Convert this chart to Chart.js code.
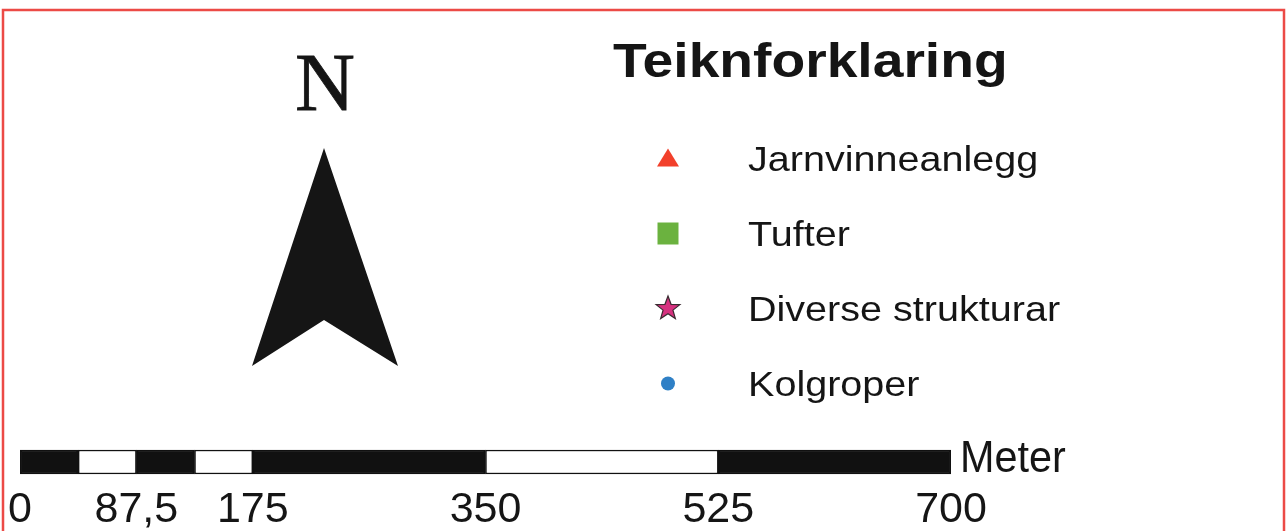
<!DOCTYPE html>
<html>
<head>
<meta charset="utf-8">
<title>Teiknforklaring</title>
<script src="https://cdn.jsdelivr.net/npm/chart.js@4.4.1/dist/chart.umd.min.js"></script>
<style>
    html, body { margin: 0; padding: 0; background: #ffffff; }
    #wrap { width: 1287px; height: 531px; }
</style>
</head>
<body>
<div id="wrap"><canvas id="legendChart" width="1287" height="531"></canvas></div>
<script>
// Scale bar (metres)
const scaleBreaks = [0, 43.75, 87.5, 131.25, 175, 350, 525, 700];
const scaleFills = ['#111111', '#ffffff', '#111111', '#ffffff', '#111111', '#ffffff', '#111111'];
const scaleTicks = [0, 87.5, 175, 350, 525, 700];
const scaleUnit = 'Meter';

// Legend entries
const legendTitle = 'Teiknforklaring';
const legendLabels = ['Jarnvinneanlegg', 'Tufter', 'Diverse strukturar', 'Kolgroper'];
const legendColors = ['#f2402b', '#6bb23f', '#d6317f', '#2f80c6'];
const legendShapes = ['triangle', 'rect', 'star', 'circle'];
const northLabel = 'N';

const sansFont = "'Liberation Sans', Arial, sans-serif";
const serifFont = "'Liberation Serif', 'Times New Roman', serif";

function drawStretched(ctx, text, x, y, stretch) {
    ctx.save();
    ctx.translate(x, y);
    ctx.scale(stretch, 1);
    ctx.fillText(text, 0, 0);
    ctx.restore();
}

function drawMarker(ctx, shape, color, x, y) {
    ctx.save();
    ctx.fillStyle = color;
    ctx.beginPath();
    if (shape === 'triangle') {
        ctx.moveTo(x, y - 10);
        ctx.lineTo(x + 11, y + 8);
        ctx.lineTo(x - 11, y + 8);
        ctx.closePath();
        ctx.fill();
    } else if (shape === 'rect') {
        ctx.rect(x - 10.5, y - 11, 21, 22);
        ctx.fill();
    } else if (shape === 'star') {
        for (let i = 0; i < 10; i++) {
            const r = i % 2 === 0 ? 12.5 : 5.2;
            const a = -Math.PI / 2 + i * Math.PI / 5;
            const px = x + r * Math.cos(a);
            const py = y + r * Math.sin(a);
            if (i === 0) ctx.moveTo(px, py); else ctx.lineTo(px, py);
        }
        ctx.closePath();
        ctx.fill();
        ctx.strokeStyle = '#3a2a30';
        ctx.lineWidth = 1.2;
        ctx.stroke();
    } else {
        ctx.arc(x, y, 7, 0, Math.PI * 2);
        ctx.fill();
    }
    ctx.restore();
}

const mapLegend = {
    id: 'mapLegend',
    beforeDraw(chart) {
        const ctx = chart.ctx;
        ctx.save();
        ctx.fillStyle = '#ffffff';
        ctx.fillRect(0, 0, chart.width, chart.height);
        ctx.restore();
    },
    afterDraw(chart) {
        const ctx = chart.ctx;
        ctx.save();

        // red frame
        ctx.strokeStyle = '#ec4a46';
        ctx.lineWidth = 2.5;
        ctx.strokeRect(3, 10, 1281, 600);

        // north arrow
        ctx.fillStyle = '#151515';
        ctx.strokeStyle = '#151515';
        ctx.lineWidth = 0.8;
        ctx.font = `83px ${serifFont}`;
        ctx.textAlign = 'center';
        ctx.textBaseline = 'alphabetic';
        ctx.fillText(northLabel, 325, 110);
        ctx.strokeText(northLabel, 325, 110);
        ctx.beginPath();
        ctx.moveTo(324, 148);
        ctx.lineTo(398, 366);
        ctx.lineTo(324, 320);
        ctx.lineTo(252, 366);
        ctx.closePath();
        ctx.fill();

        // legend
        ctx.textAlign = 'left';
        ctx.font = `bold 48px ${sansFont}`;
        drawStretched(ctx, legendTitle, 613, 77, 1.15);
        ctx.font = `35px ${sansFont}`;
        legendLabels.forEach((label, i) => {
            const base = 171 + i * 75;
            drawMarker(ctx, legendShapes[i], legendColors[i], 668, base - 12.5);
            ctx.fillStyle = '#151515';
            drawStretched(ctx, label, 748, base, 1.13);
        });

        // unit next to the scale bar
        const lastBar = chart.getDatasetMeta(scaleFills.length - 1).data[0];
        const barBottom = lastBar.y + lastBar.height / 2;
        ctx.font = `44px ${sansFont}`;
        drawStretched(ctx, scaleUnit, lastBar.x + 9, barBottom - 2, 0.94);
        ctx.restore();
    }
};

const ctx = document.getElementById('legendChart').getContext('2d');
new Chart(ctx, {
    type: 'bar',
    data: {
        labels: [''],
        datasets: scaleFills.map((fill, i) => ({
            label: scaleBreaks[i] + '-' + scaleBreaks[i + 1],
            data: [scaleBreaks[i + 1] - scaleBreaks[i]],
            backgroundColor: fill,
            borderColor: '#111111',
            borderWidth: 1.5,
            borderSkipped: false,
            barThickness: 24
        }))
    },
    options: {
        indexAxis: 'y',
        responsive: false,
        animation: false,
        layout: { padding: { left: 20, right: 336, top: 434, bottom: 0 } },
        scales: {
            x: {
                type: 'linear',
                stacked: true,
                min: 0,
                max: 700,
                grid: { display: false, drawTicks: false },
                border: { display: false },
                afterBuildTicks: scale => {
                    scale.ticks = scaleTicks.map(v => ({ value: v }));
                },
                ticks: {
                    padding: 0,
                    autoSkip: false,
                    maxRotation: 0,
                    color: '#151515',
                    font: { family: sansFont, size: 43, lineHeight: 41 / 43 },
                    callback: v => String(v).replace('.', ',')
                }
            },
            y: { stacked: true, display: false }
        },
        plugins: {
            legend: { display: false },
            tooltip: { enabled: false }
        }
    },
    plugins: [mapLegend]
});
</script>
</body>
</html>
